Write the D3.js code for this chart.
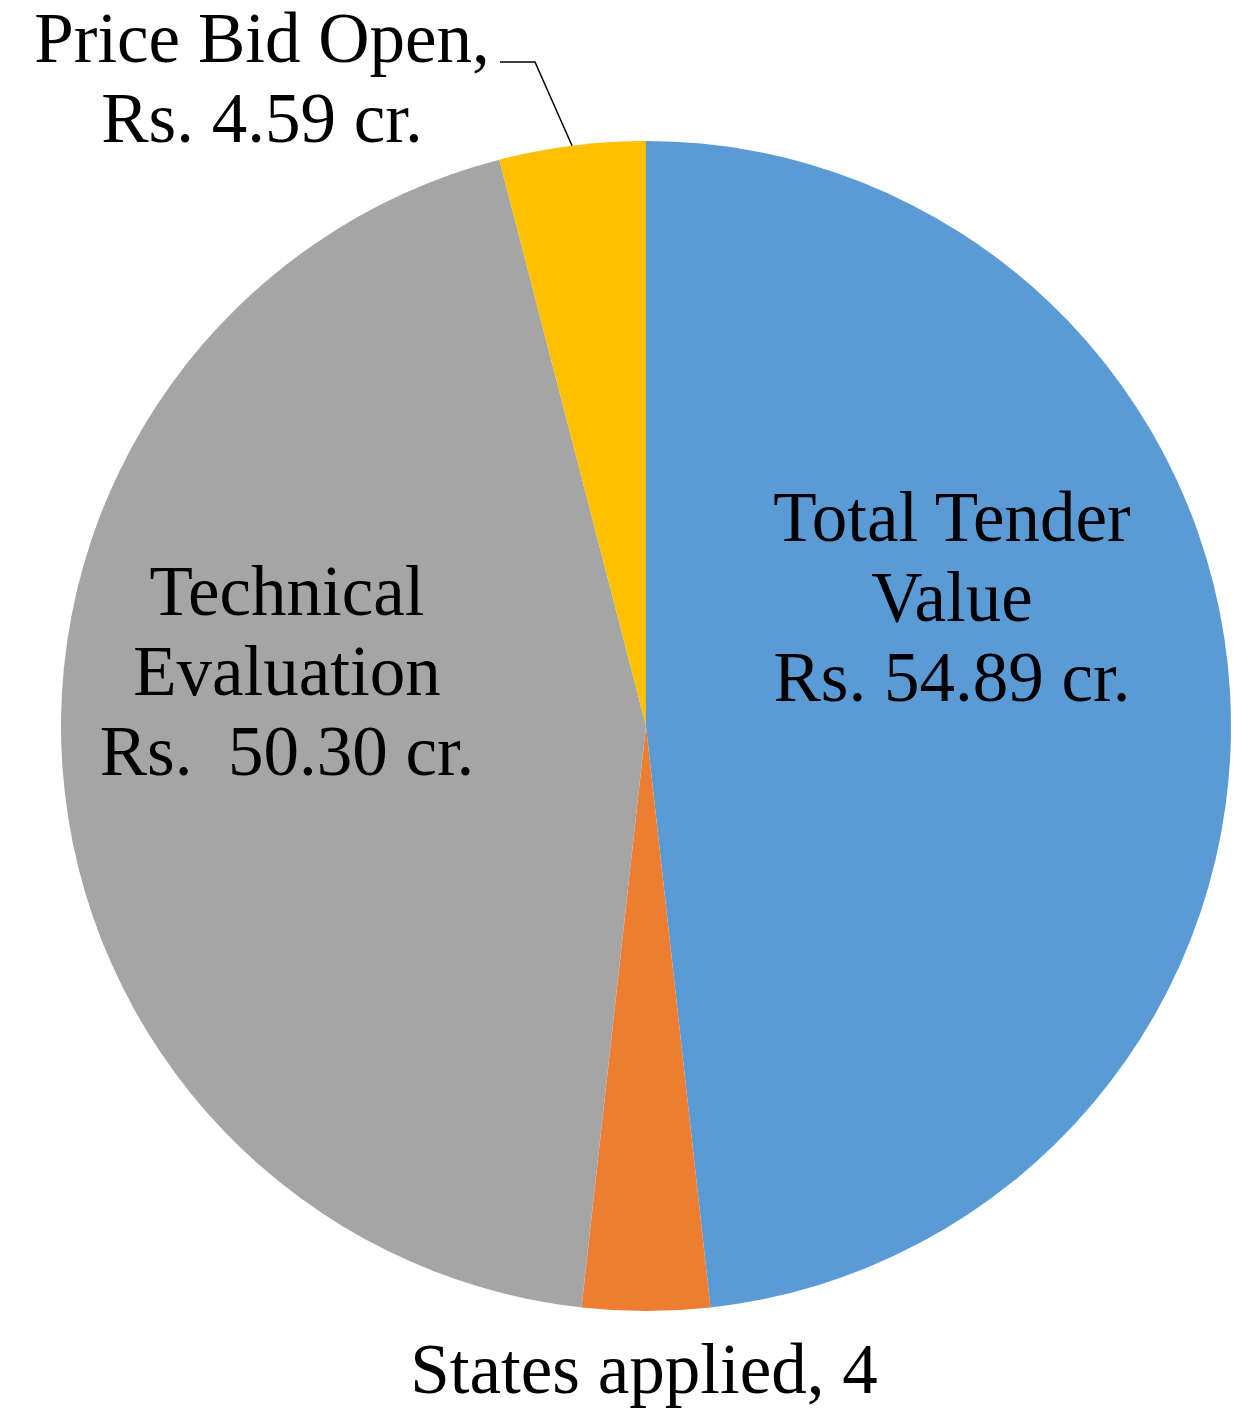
<!DOCTYPE html>
<html>
<head>
<meta charset="utf-8">
<script src="https://cdn.jsdelivr.net/npm/d3@7"></script>
<style>
  html, body { margin: 0; padding: 0; background: #fff; }
</style>
</head>
<body>
<svg id="chart" width="1249" height="1411"></svg>
<script>
// data
var categories = ["Total Tender Value", "States applied", "Technical Evaluation", "Price Bid Open"];
var values = [54.89, 4, 50.30, 4.59];
var labelLines = [
    ["Total Tender", "Value", "Rs. 54.89 cr."],
    ["States applied, 4"],
    ["Technical", "Evaluation", "Rs.  50.30 cr."],
    ["Price Bid Open,", "Rs. 4.59 cr."]
];
var colors = ["#5B9BD5", "#ED7D31", "#A5A5A5", "#FFC000"];

// layout
var cfg = {
    cx: 646,
    cy: 726,
    r: 585,
    fontSize: 71,
    lineHeight: 80,
    // label block centre x, first baseline y (manual positions as in the original)
    labels: [
        { x: 952, y: 541 },
        { x: 644, y: 1393 },
        { x: 287, y: 615 },
        { x: 262, y: 62 }
    ]
};

var svg = d3.select("#chart");
var g = svg.append("g").attr("transform", `translate(${cfg.cx},${cfg.cy})`);

var pie = d3.pie().sort(null).value((d) => d.value);
var arcs = pie(categories.map((c, i) => ({ name: c, value: values[i], i: i })));
var arc = d3.arc().innerRadius(0).outerRadius(cfg.r);

g.selectAll("path.slice")
    .data(arcs)
    .enter()
    .append("path")
    .attr("class", "slice")
    .attr("d", arc)
    .attr("fill", (d) => colors[d.data.i]);

// labels
var lbl = svg.selectAll("text.lbl")
    .data(arcs)
    .enter()
    .append("text")
    .attr("class", "lbl")
    .attr("text-anchor", "middle")
    .style("font-family", '"Liberation Serif"')
    .style("font-size", cfg.fontSize + "px")
    .style("white-space", "pre")
    .attr("fill", "#000")
    .attr("transform", (d) => `translate(${cfg.labels[d.data.i].x},${cfg.labels[d.data.i].y})`);

lbl.selectAll("tspan")
    .data((d) => labelLines[d.data.i])
    .enter()
    .append("tspan")
    .attr("x", 0)
    .attr("y", (d, j) => j * cfg.lineHeight)
    .text((d) => d);

// leader line for Price Bid Open
var pb = arcs[3];
var mid = (pb.startAngle + pb.endAngle) / 2;
var edge = [cfg.cx + cfg.r * Math.sin(mid), cfg.cy - cfg.r * Math.cos(mid)];
var lab = cfg.labels[3];
svg.append("path")
    .attr("d", d3.line()([[lab.x + 238, lab.y], [lab.x + 273, lab.y], edge]))
    .attr("fill", "none")
    .attr("stroke", "#000")
    .attr("stroke-width", 1.5);
</script>
</body>
</html>
